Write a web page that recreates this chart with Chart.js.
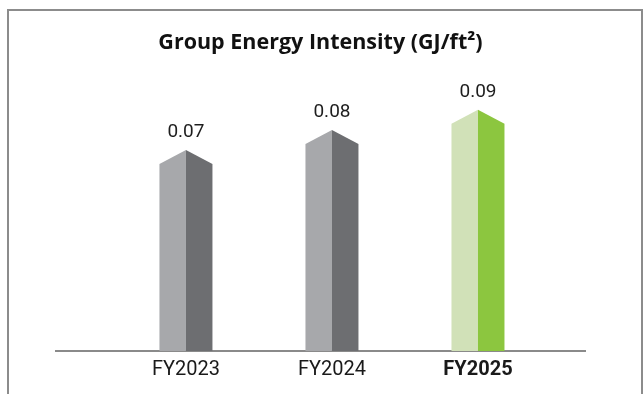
<!DOCTYPE html>
<html>
<head>
<meta charset="utf-8">
<script src="https://cdn.jsdelivr.net/npm/chart.js@4.4.1/dist/chart.umd.min.js"></script>
<style>
  body { margin: 0; background: #fff; overflow: hidden; }
  canvas { display: block; }
</style>
</head>
<body>
<canvas id="chart" width="643" height="394"></canvas>
<script>
// ---------- Data ----------
const categories = ['FY2023', 'FY2024', 'FY2025'];
const intensity = [0.07, 0.08, 0.09];
const xTicks = [1, 2, 3];
const yMin = -0.03;
const yMax = 0.118;

// left (lit) face and right (shaded) face of each bar
const lightFaces = ['#a7a8ab', '#a7a8ab', '#d1e1b8'];
const darkFaces = ['#6d6e71', '#6d6e71', '#8cc63f'];
const PEAK = 14;

// ---------- Open box round the chart ----------
const frame = {
    id: 'frame',
    beforeDraw(chart) {
        const ctx = chart.ctx;
        ctx.save();
        ctx.fillStyle = '#8c8c8c';
        ctx.fillRect(7, 9, 2, chart.height - 9);
        ctx.fillRect(7, 9, chart.width - 7, 2);
        ctx.fillRect(chart.width - 2, 9, 2, chart.height - 9);
        ctx.restore();
    }
};

// ---------- Prism bar drawing ----------
const prismBars = {
    id: 'prismBars',
    afterDatasetsDraw(chart) {
        const ctx = chart.ctx;
        chart.getDatasetMeta(0).data.forEach((bar, i) => {
            const { x, y, base, width } = bar.getProps(['x', 'y', 'base', 'width'], true);
            const left = x - width / 2;
            const right = x + width / 2;
            const shoulder = y + PEAK;

            ctx.save();
            ctx.fillStyle = lightFaces[i];
            ctx.beginPath();
            ctx.moveTo(left, base);
            ctx.lineTo(left, shoulder);
            ctx.lineTo(x, y);
            ctx.lineTo(x, base);
            ctx.closePath();
            ctx.fill();

            ctx.fillStyle = darkFaces[i];
            ctx.beginPath();
            ctx.moveTo(x, base);
            ctx.lineTo(x, y);
            ctx.lineTo(right, shoulder);
            ctx.lineTo(right, base);
            ctx.closePath();
            ctx.fill();

            // value label above the peak
            ctx.fillStyle = '#1e1e1e';
            ctx.font = '19px Roboto';
            ctx.textAlign = 'center';
            ctx.textBaseline = 'middle';
            ctx.fillText(intensity[i].toFixed(2), x, y - 18);
            ctx.restore();
        });
    }
};

new Chart(document.getElementById('chart'), {
    type: 'bar',
    data: {
        datasets: [{
            data: categories.map((c, i) => ({ x: xTicks[i], y: intensity[i] })),
            backgroundColor: 'rgba(0,0,0,0)',
            barThickness: 53,
            base: yMin
        }]
    },
    options: {
        responsive: false,
        animation: false,
        events: [],
        layout: { padding: { left: 56, right: 58, top: 0, bottom: 5 } },
        plugins: {
            legend: { display: false },
            tooltip: { enabled: false },
            title: {
                display: true,
                text: 'Group Energy Intensity (GJ/ft²)',
                color: '#111',
                padding: { top: 32, bottom: 0 },
                font: { family: "'Open Sans'", size: 21.5, weight: 'bold', lineHeight: 1 }
            }
        },
        scales: {
            x: {
                type: 'linear',
                offset: false,
                min: 0.11,
                max: 3.733,
                z: 1,
                grid: { display: false, drawTicks: false },
                border: { color: '#8a8a8a', width: 2 },
                afterBuildTicks: axis => {
                    axis.ticks = xTicks.map(v => ({ value: v }));
                },
                ticks: {
                    padding: 7,
                    color: '#1a1a1a',
                    font: ctx => ({
                        family: 'Roboto',
                        size: 20,
                        weight: ctx.index === 2 ? 'bold' : 'normal'
                    }),
                    callback: v => categories[xTicks.indexOf(v)]
                }
            },
            y: { display: false, min: yMin, max: yMax }
        }
    },
    plugins: [frame, prismBars]
});
</script>
</body>
</html>
